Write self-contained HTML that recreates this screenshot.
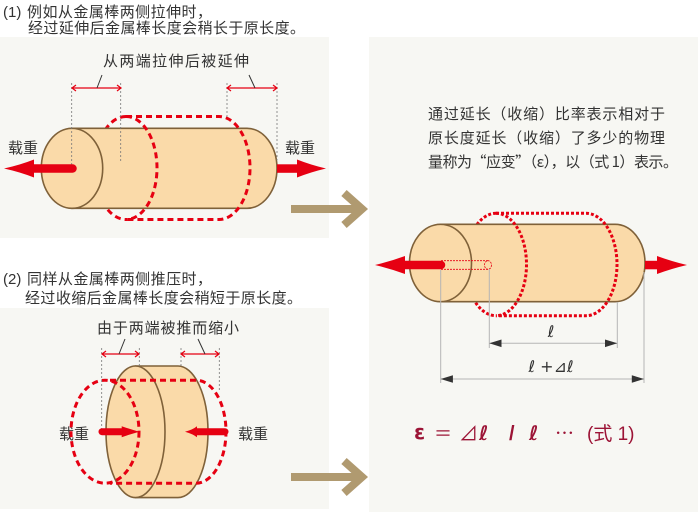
<!DOCTYPE html>
<html><head><meta charset="utf-8">
<style>html,body{margin:0;padding:0;background:#fff;}svg{display:block}</style></head>
<body>
<svg width="698" height="512" viewBox="0 0 698 512" xmlns="http://www.w3.org/2000/svg" font-family="'Liberation Sans','Noto Sans CJK SC',sans-serif">
<rect width="698" height="512" fill="#fff"/>
<rect x="0" y="37" width="329" height="201" fill="#f7f7f3"/>
<rect x="0" y="308" width="329" height="201" fill="#f7f7f3"/>
<rect x="369" y="37" width="329" height="475" fill="#f7f7f3"/>

<!-- headings -->
<g fill="#333" font-size="15">
<text x="3" y="17">(1)</text>
<text x="27" y="17" textLength="185" lengthAdjust="spacing">例如从金属棒两侧拉伸时，</text>
<text x="28" y="33" textLength="277" lengthAdjust="spacing">经过延伸后金属棒长度会稍长于原长度。</text>
<text x="3" y="284">(2)</text>
<text x="27" y="284" textLength="185" lengthAdjust="spacing">同样从金属棒两侧推压时，</text>
<text x="25" y="303" textLength="277" lengthAdjust="spacing">经过收缩后金属棒长度会稍短于原长度。</text>
<text x="103" y="66" textLength="146" lengthAdjust="spacing">从两端拉伸后被延伸</text>
<text x="97" y="333" textLength="142" lengthAdjust="spacing">由于两端被推而缩小</text>
<text x="8" y="153" textLength="30" lengthAdjust="spacing">载重</text>
<text x="285" y="153" textLength="30" lengthAdjust="spacing">载重</text>
<text x="59" y="439" textLength="30" lengthAdjust="spacing">载重</text>
<text x="238" y="439" textLength="30" lengthAdjust="spacing">载重</text>
<text x="428" y="119" textLength="237" lengthAdjust="spacing">通过延长（收缩）比率表示相对于</text>
<text x="428" y="143" textLength="237" lengthAdjust="spacing">原长度延长（收缩）了多少的物理</text>
<text x="428" y="167" textLength="250" lengthAdjust="spacing" font-family="'Noto Sans CJK SC',sans-serif">量称为“应变”（ε），以（式 1）表示。</text>
</g>

<!-- brown arrows -->
<g fill="none" stroke="#b09a70" stroke-width="8">
<line x1="291" y1="209" x2="362" y2="209"/>
<polyline points="344,193 362,209 344,225" stroke-linejoin="miter"/>
<line x1="291" y1="477" x2="362" y2="477"/>
<polyline points="344,461 362,477 344,493" stroke-linejoin="miter"/>
</g>

<!-- ===== top-left diagram ===== -->
<path d="M126,116.5 A31,51.5 0 0 0 126,219.5" fill="none" stroke="#e60012" stroke-width="3" stroke-dasharray="6 4"/>
<path d="M72,128.3 H247 A30,40 0 0 1 247,208.3 H72 Z" fill="#fadaa9" stroke="#7f6139" stroke-width="1.6"/>
<ellipse cx="72" cy="168.3" rx="30.7" ry="40" fill="#fadaa9" stroke="#7f6139" stroke-width="1.6"/>
<g fill="none" stroke="#e60012" stroke-width="3" stroke-dasharray="6 4">
<path d="M126,116.5 H219 A31,51.5 0 0 1 219,219.5 H126"/>
<path d="M126,116.5 A31,51.5 0 0 1 126,219.5"/>
</g>
<g stroke="#777" stroke-width="0.8" stroke-dasharray="2 2" fill="none">
<line x1="71.7" y1="83" x2="71.7" y2="168"/>
<line x1="120.7" y1="83" x2="120.7" y2="163"/>
<line x1="227" y1="83" x2="227" y2="119"/>
<line x1="277" y1="83" x2="277" y2="160"/>
</g>
<g stroke="#e60012" stroke-width="1.2" fill="none">
<line x1="72" y1="88" x2="121" y2="88"/>
<polyline points="76,85 72,88 76,91"/><polyline points="117,85 121,88 117,91"/>
<line x1="227" y1="88" x2="277" y2="88"/>
<polyline points="231,85 227,88 231,91"/><polyline points="273,85 277,88 273,91"/>
</g>
<g stroke="#333" stroke-width="1">
<line x1="97" y1="88" x2="102" y2="75"/>
<line x1="255" y1="88" x2="249" y2="75"/>
</g>
<g fill="#e60012">
<line x1="72.5" y1="168.5" x2="32" y2="168.5" stroke="#e60012" stroke-width="8.5" stroke-linecap="round"/>
<path d="M4,168.5 Q20,165 34,159.5 L34,177.5 Q20,172 4,168.5 Z"/>
<rect x="277" y="164.3" width="21" height="8.5"/>
<path d="M326,168.5 Q311,165 297,159.5 L297,177.5 Q311,172 326,168.5 Z"/>
</g>

<!-- ===== bottom-left diagram ===== -->
<path d="M135.5,366 H178 A30,65.8 0 0 1 178,497.6 H135.5 Z" fill="#fadaa9" stroke="#7f6139" stroke-width="1.6"/>
<ellipse cx="135.5" cy="431.8" rx="29.5" ry="65.8" fill="#fadaa9" stroke="#7f6139" stroke-width="1.6"/>
<g fill="none" stroke="#e60012" stroke-width="3" stroke-dasharray="6 4">
<ellipse cx="105" cy="431.7" rx="34" ry="51.5"/>
<path d="M110,380.2 H196 A30,51.5 0 0 1 196,483.2 H110"/>
</g>
<g stroke="#777" stroke-width="0.8" stroke-dasharray="2 2" fill="none">
<line x1="101.7" y1="348" x2="101.7" y2="430"/>
<line x1="139.3" y1="348" x2="139.3" y2="366"/>
<line x1="181" y1="348" x2="181" y2="366"/>
<line x1="219.3" y1="348" x2="219.3" y2="392"/>
</g>
<g stroke="#e60012" stroke-width="1.2" fill="none">
<line x1="102" y1="354" x2="139" y2="354"/>
<polyline points="106,351 102,354 106,357"/><polyline points="135,351 139,354 135,357"/>
<line x1="181" y1="354" x2="219" y2="354"/>
<polyline points="185,351 181,354 185,357"/><polyline points="215,351 219,354 215,357"/>
</g>
<g stroke="#333" stroke-width="1">
<line x1="119" y1="354" x2="125" y2="339"/>
<line x1="205" y1="354" x2="198" y2="339"/>
</g>
<g fill="#e60012">
<line x1="102" y1="431.7" x2="123" y2="431.7" stroke="#e60012" stroke-width="7" stroke-linecap="round"/>
<path d="M139.3,431.7 Q131,429.5 121.7,426.2 L121.7,437.2 Q131,434 139.3,431.7 Z"/>
<line x1="225" y1="431.7" x2="196" y2="431.7" stroke="#e60012" stroke-width="7" stroke-linecap="round"/>
<path d="M185,431.7 Q193,429.5 197,426.2 L197,437.2 Q193,434 185,431.7 Z"/>
</g>

<!-- ===== right diagram ===== -->
<path d="M496,213.3 A30.5,51.2 0 0 0 496,315.7" fill="none" stroke="#e60012" stroke-width="3" stroke-dasharray="3 2"/>
<path d="M440.5,224.3 H615 A30,38.7 0 0 1 615,301.7 H440.5 Z" fill="#fadaa9" stroke="#7f6139" stroke-width="1.6"/>
<ellipse cx="440.5" cy="263" rx="31" ry="38.7" fill="#fadaa9" stroke="#7f6139" stroke-width="1.6"/>
<g fill="none" stroke="#e60012" stroke-width="0.8" stroke-dasharray="2 1">
<line x1="441" y1="260.7" x2="488" y2="260.7"/>
<line x1="441" y1="269.3" x2="488" y2="269.3"/>
<ellipse cx="488" cy="265" rx="3.5" ry="4.3"/>
</g>
<g fill="none" stroke="#e60012" stroke-width="3" stroke-dasharray="3 2">
<path d="M496,213.3 H586 A31,51.2 0 0 1 586,315.7 H496"/>
<path d="M496,213.3 A30.5,51.2 0 0 1 496,315.7"/>
</g>
<g fill="#e60012">
<line x1="441" y1="265" x2="404" y2="265" stroke="#e60012" stroke-width="8.5" stroke-linecap="round"/>
<path d="M375,265 Q390,261.5 405,256 L405,274 Q390,268.5 375,265 Z"/>
<rect x="645" y="260.8" width="13" height="8.5"/>
<path d="M687,265 Q672,261.5 657,256 L657,274 Q672,268.5 687,265 Z"/>
</g>
<g stroke="#b5b5b5" stroke-width="1">
<line x1="440.7" y1="270" x2="440.7" y2="383"/>
<line x1="489.3" y1="269" x2="489.3" y2="348"/>
<line x1="617.3" y1="302" x2="617.3" y2="348"/>
<line x1="644" y1="272" x2="644" y2="383"/>
<line x1="489.3" y1="343.3" x2="617.3" y2="343.3"/>
<line x1="440.7" y1="379" x2="644" y2="379"/>
</g>
<g fill="#333">
<path d="M489.3,343.3 L501.5,339.5 L501.5,347.1 Z"/>
<path d="M617.3,343.3 L605,339.5 L605,347.1 Z"/>
<path d="M440.7,379 L452.9,375.2 L452.9,382.8 Z"/>
<path d="M644,379 L631.8,375.2 L631.8,382.8 Z"/>
</g>
<g fill="#333" font-size="16" font-family="'DejaVu Sans','Liberation Sans','Noto Sans CJK SC',sans-serif">
<text x="551" y="337" text-anchor="middle">ℓ</text>
<text x="551" y="372" text-anchor="middle">ℓ +⊿ℓ</text>
</g>

<!-- formula -->
<g fill="#9c1436" font-size="20" font-family="'DejaVu Sans','Liberation Sans','Noto Sans CJK SC',sans-serif">
<text x="414" y="439" font-weight="bold">ε</text>
<text x="434" y="440" font-family="'Noto Sans CJK SC',sans-serif" font-size="18">＝</text>
<text x="459" y="440" font-family="'Noto Sans CJK SC',sans-serif" font-size="19">⊿</text>
<text x="479" y="440" font-weight="bold">ℓ</text>
<text x="509" y="440" font-weight="bold" font-family="'Liberation Sans',sans-serif">/</text>
<text x="529" y="440" font-weight="bold">ℓ</text>
<text x="555" y="440" font-family="'Noto Sans CJK SC',sans-serif" font-size="19">…</text>
<text x="587" y="440" font-family="'Liberation Sans','Noto Sans CJK SC',sans-serif" font-size="19">(式 1)</text>
</g>
</svg>
</body></html>
